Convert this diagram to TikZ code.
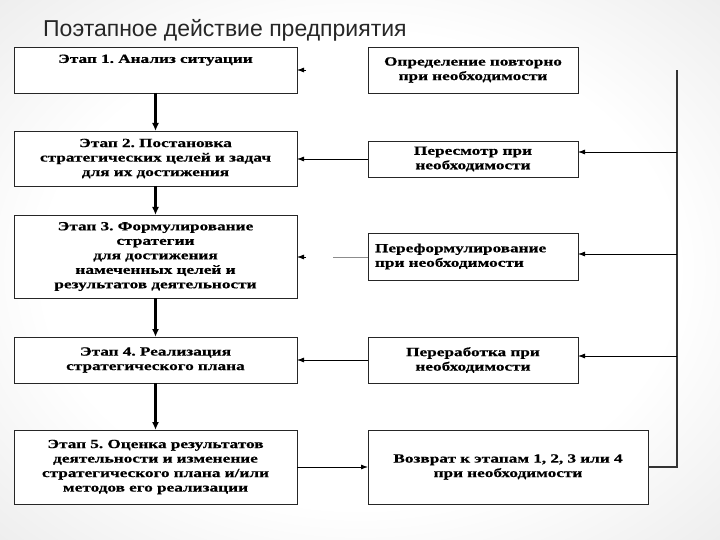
\documentclass[tikz,border=0pt]{standalone}
\usepackage{fontspec}
\setmainfont{Liberation Serif}
\newfontfamily\titlefont{Liberation Sans}
\newfontfamily\boxfont[FakeStretch=1.38, BoldFeatures={FakeBold=0.6}]{Liberation Serif}
\usepackage{tikz}
\usetikzlibrary{arrows.meta}
\usetikzlibrary{calc}
\pgfdeclareradialshading{slidebg}{\pgfpoint{0bp}{0bp}}{color(0bp)=(white); color(22bp)=(white); color(50bp)=(black!14); color(72bp)=(black!18)}
\frenchspacing

\begin{document}
\begin{tikzpicture}[x=1pt, y=-1pt,
    stagebox/.style={draw=black!85, line width=0.9pt, fill=white, outer sep=0pt,
      inner sep=4pt, align=center, font=\boxfont\bfseries\fontsize{12.5}{14.5}\selectfont},
    flow/.style={line width=2.2pt, -{Latex[length=8pt, width=7pt]}},
    back/.style={line width=0.8pt, -{Latex[length=7pt, width=5pt]}}]

      \useasboundingbox (0,0) rectangle (720,540);
      \shade[shading=slidebg] (0,0) rectangle (720,540);

      \node[anchor=base west, inner sep=0pt, font=\titlefont\fontsize{23}{26}\selectfont, text=black!85]
        (title) at (43,37) {Поэтапное действие предприятия};

      % left column
      \node[stagebox, minimum width=283, minimum height=46, text width=275] (l1) at (155.5,70)
        {Этап 1. Анализ ситуации\\[8pt]~};
      \node[stagebox, minimum width=283, minimum height=55, text width=275] (l2) at (155.5,158.5)
        {Этап 2. Постановка\\стратегических целей и задач\\для их достижения};
      \node[stagebox, minimum width=283, minimum height=83, text width=275] (l3) at (155.5,256.5)
        {Этап 3. Формулирование\\стратегии\\для достижения\\намеченных целей и\\результатов деятельности};
      \node[stagebox, minimum width=283, minimum height=46, text width=275] (l4) at (155.5,360)
        {Этап 4. Реализация\\стратегического плана};
      \node[stagebox, minimum width=283, minimum height=74, text width=275] (l5) at (155.5,467)
        {Этап 5. Оценка результатов\\деятельности и изменение\\стратегического плана и/или\\методов его реализации};

      % right column
      \node[stagebox, minimum width=210, minimum height=46, text width=202] (r1) at (473,70)
        {Определение повторно\\при необходимости};
      \node[stagebox, minimum width=210, minimum height=36, text width=202] (r2) at (473,159)
        {Пересмотр при\\необходимости};
      \node[stagebox, minimum width=210, minimum height=47, text width=196, inner sep=7pt, align=left] (r3) at (473,256.5)
        {Переформулирование\\при необходимости};
      \node[stagebox, minimum width=210, minimum height=46, text width=202] (r4) at (473,360)
        {Переработка при\\необходимости};
      \node[stagebox, minimum width=280, minimum height=74, text width=272] (r5) at (508,467)
        {Возврат к этапам 1, 2, 3 или 4\\при необходимости};

      \draw[flow] (l1.south) -- (l2.north);
      \draw[flow] (l2.south) -- (l3.north);
      \draw[flow] (l3.south) -- (l4.north);
      \draw[flow] (l4.south) -- (l5.north);

      \coordinate (tip1) at (306,70);
      \coordinate (gap3) at (333,257);
      \coordinate (tip3) at (306,257);
      \draw[back] (tip1) -- (tip1 -| l1.east);
      \draw[back] (r2.west) -- (r2.west -| l2.east);
      \draw[black!45, line width=0.6pt] (r3.west |- gap3) -- (gap3);
      \draw[back] (tip3) -- (tip3 -| l3.east);
      \draw[back] (r4.west) -- (r4.west -| l4.east);
      \draw[back] (l5.east) -- (r5.west);

      \coordinate (railtop) at (677,70);
      \coordinate (rail2) at (677,152);
      \coordinate (rail3) at (677,254);
      \coordinate (rail4) at (677,356);
      \coordinate (rail5) at (677,467);
      \draw[line width=1.1pt, black!80] (r5.east) -- (rail5) -- (railtop);
      \draw[back] (rail2) -- (rail2 -| r2.east);
      \draw[back] (rail3) -- (rail3 -| r3.east);
      \draw[back] (rail4) -- (rail4 -| r4.east);

    \end{tikzpicture}
\end{document}
